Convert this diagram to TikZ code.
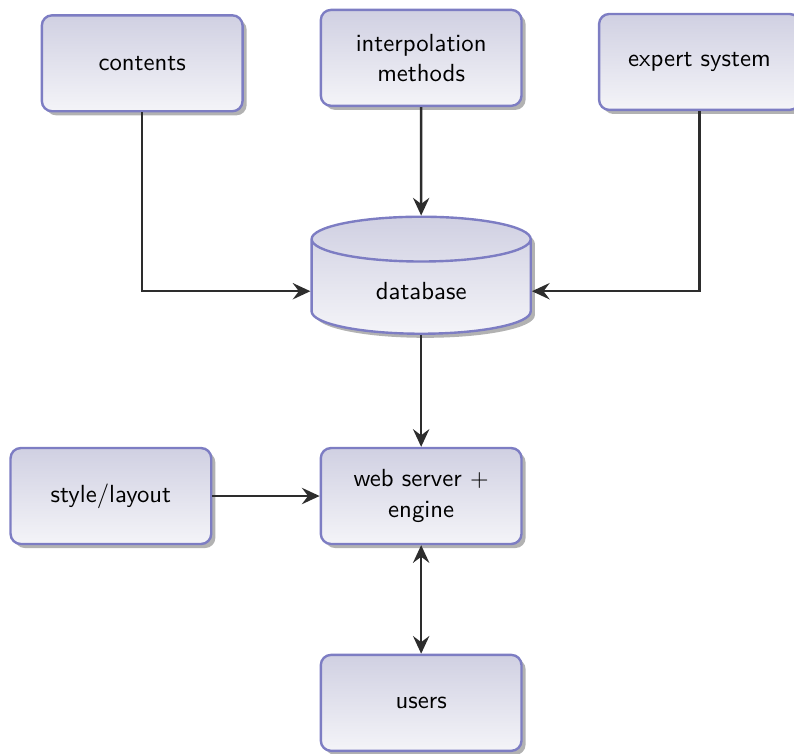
\documentclass[tikz,border=0pt]{standalone}
\usepackage{amssymb}
\usepackage{tikz}
\usetikzlibrary{positioning,shapes.geometric,arrows.meta,shadows}
\definecolor{boxline}{RGB}{125,125,195}
\definecolor{boxtop}{RGB}{208,208,226}
\definecolor{boxbot}{RGB}{244,244,248}
\definecolor{wire}{RGB}{45,45,45}
\renewcommand{\familydefault}{\sfdefault}
\tikzset{
  block/.style={draw=boxline,line width=1pt,rounded corners=0.15cm,top color=boxtop,bottom color=boxbot,
    minimum width=2.95cm,minimum height=1.41cm,align=center,font=\sffamily\fontsize{10.35}{12.6}\selectfont,
    drop shadow={shadow xshift=0.06cm,shadow yshift=-0.06cm,fill=black!30,opacity=1}},
  store/.style={draw=boxline,line width=1pt,cylinder,shape border rotate=90,aspect=0.42,top color=boxtop,bottom color=boxbot,
    minimum width=3.22cm,minimum height=1.72cm,font=\sffamily\fontsize{10.35}{12.6}\selectfont,
    drop shadow={shadow xshift=0.06cm,shadow yshift=-0.06cm,fill=black!30,opacity=1}},
  wireline/.style={draw=wire,line width=1pt,-{Stealth[length=2.6mm,width=2.4mm,inset=0.9mm]}}
}
\begin{document}
\begin{tikzpicture}
    \useasboundingbox (0,0) rectangle (11.67,-11.07);
    \node[block] (contents) at (2.09,-0.93) {contents};
    \node[block] (interp) at (6.19,-0.85) {interpolation\\methods};
    \node[block] (expert) at (10.28,-0.91) {expert system};
    \node[store] (db) at (6.19,-4.28) {database};
    \node[block] (layout) at (1.63,-7.29) {style/layout};
    \node[block] (server) at (6.19,-7.29) {web server $+$\\engine};
    \node[block] (users) at (6.19,-10.33) {users};
    \draw[wireline] (contents.south) |- (db.west);
    \draw[wireline] (interp.south) -- (db.north);
    \draw[wireline] (expert.south) |- (db.east);
    \draw[wireline] (db.south) -- (server.north);
    \draw[wireline] (layout.east) -- (server.west);
    \draw[wireline,{Stealth[length=2.6mm,width=2.4mm,inset=0.9mm]}-{Stealth[length=2.6mm,width=2.4mm,inset=0.9mm]}] (server.south) -- (users.north);
\end{tikzpicture}
\end{document}
